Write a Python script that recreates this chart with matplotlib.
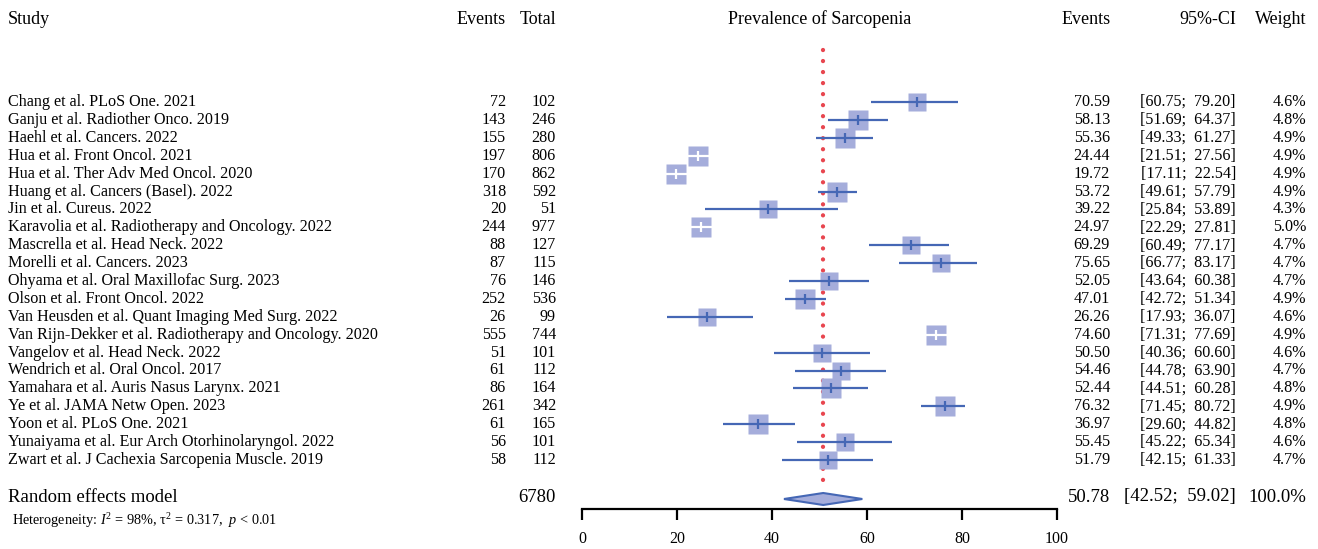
import matplotlib
matplotlib.use("Agg")
import matplotlib.pyplot as plt
import matplotlib.transforms as mtransforms
import numpy as np

plt.rcParams['font.family'] = ['Liberation Serif', 'DejaVu Serif']
plt.rcParams['mathtext.fontset'] = 'custom'
plt.rcParams['mathtext.rm'] = 'Liberation Serif'
plt.rcParams['mathtext.it'] = 'Liberation Serif:italic'

# ---- data ----
studies = [
    "Chang et al. PLoS One. 2021",
    "Ganju et al. Radiother Onco. 2019",
    "Haehl et al. Cancers. 2022",
    "Hua et al. Front Oncol. 2021",
    "Hua et al. Ther Adv Med Oncol. 2020",
    "Huang et al. Cancers (Basel). 2022",
    "Jin et al. Cureus. 2022",
    "Karavolia et al. Radiotherapy and Oncology. 2022",
    "Mascrella et al. Head Neck. 2022",
    "Morelli et al. Cancers. 2023",
    "Ohyama et al. Oral Maxillofac Surg. 2023",
    "Olson et al. Front Oncol. 2022",
    "Van Heusden et al. Quant Imaging Med Surg. 2022",
    "Van Rijn-Dekker et al. Radiotherapy and Oncology. 2020",
    "Vangelov et al. Head Neck. 2022",
    "Wendrich et al. Oral Oncol. 2017",
    "Yamahara et al. Auris Nasus Larynx. 2021",
    "Ye et al. JAMA Netw Open. 2023",
    "Yoon et al. PLoS One. 2021",
    "Yunaiyama et al. Eur Arch Otorhinolaryngol. 2022",
    "Zwart et al. J Cachexia Sarcopenia Muscle. 2019",
]
events = [72, 143, 155, 197, 170, 318, 20, 244, 88, 87, 76, 252, 26, 555, 51, 61, 86, 261, 61, 56, 58]
totals = [102, 246, 280, 806, 862, 592, 51, 977, 127, 115, 146, 536, 99, 744, 101, 112, 164, 342, 165, 101, 112]
prev = [70.59, 58.13, 55.36, 24.44, 19.72, 53.72, 39.22, 24.97, 69.29, 75.65, 52.05,
        47.01, 26.26, 74.60, 50.50, 54.46, 52.44, 76.32, 36.97, 55.45, 51.79]
ci_low = [60.75, 51.69, 49.33, 21.51, 17.11, 49.61, 25.84, 22.29, 60.49, 66.77, 43.64,
          42.72, 17.93, 71.31, 40.36, 44.78, 44.51, 71.45, 29.60, 45.22, 42.15]
ci_high = [79.20, 64.37, 61.27, 27.56, 22.54, 57.79, 53.89, 27.81, 77.17, 83.17, 60.38,
           51.34, 36.07, 77.69, 60.60, 63.90, 60.28, 80.72, 44.82, 65.34, 61.33]
weights = [4.6, 4.8, 4.9, 4.9, 4.9, 4.9, 4.3, 5.0, 4.7, 4.7, 4.7,
           4.9, 4.6, 4.9, 4.6, 4.7, 4.8, 4.9, 4.8, 4.6, 4.7]
pooled_est = 50.78
pooled_low = 42.52
pooled_high = 59.02
pooled_total = 6780
xticks = [0, 20, 40, 60, 80, 100]

# ---- layout ----
W, H = 1318, 549
row0, row_step = 102, 17.9          # pixel y of first row, row spacing


def row_of(py):
    return (py - row0) / row_step


box_col = '#a5addb'
line_col = '#4567b5'
ref_col = '#e8464f'

fig = plt.figure(figsize=(W / 100, H / 100), dpi=100)
ax = fig.add_axes([582 / W, 0, 475 / W, 1])
ax.set_xlim(0, 100)
ax.set_ylim(row_of(H), row_of(0))
for s in ['top', 'left', 'right']:
    ax.spines[s].set_visible(False)
ax.spines['bottom'].set_position(('data', row_of(509)))
ax.spines['bottom'].set_linewidth(1.6)
ax.spines['bottom'].set_bounds(0, 100)
ax.set_yticks([])
ax.set_xticks(xticks)
ax.tick_params(axis='x', direction='out', length=8, width=1.6, pad=8, labelsize=11.5)

rows = np.arange(len(studies))

# reference line at pooled estimate
ax.plot([pooled_est, pooled_est], [row_of(50), row_of(488)], color=ref_col, lw=3.1,
        ls=(0, (0.01, 2.55)), dash_capstyle='round', zorder=1)

# study boxes and CIs
for r, est, lo, hi, w in zip(rows, prev, ci_low, ci_high, weights):
    ms = 13.4 * np.sqrt(w / 4.6)
    ax.plot(est, r, marker='s', ms=ms, mfc=box_col, mec='none', zorder=2, clip_on=False)
    c = 'white' if hi - lo < 7 else line_col
    ax.plot([lo, hi], [r, r], color=c, lw=1.6, zorder=3, solid_capstyle='butt')
    ax.plot(est, r, marker='|', ms=6.5, mew=1.6, color=c, zorder=4)

# pooled diamond
rd = row_of(499)
hd = 6 / row_step
ax.fill([pooled_low, pooled_est, pooled_high, pooled_est], [rd, rd - hd, rd, rd + hd],
        facecolor=box_col, edgecolor=line_col, lw=1.5, zorder=3)

# ---- text columns ----
tr = mtransforms.blended_transform_factory(fig.transFigure, ax.transData)
rh = row_of(19)
rs = row_of(497)
fs_row, fs_head, fs_sum = 11.6, 13, 13.5

ax.text(8 / W, rh, "Study", transform=tr, ha='left', va='center', fontsize=fs_head)
ax.text(506 / W, rh, "Events", transform=tr, ha='right', va='center', fontsize=fs_head)
ax.text(556 / W, rh, "Total", transform=tr, ha='right', va='center', fontsize=fs_head)
ax.text(50, rh, "Prevalence of Sarcopenia", ha='center', va='center', fontsize=fs_head)
ax.text(1111 / W, rh, "Events", transform=tr, ha='right', va='center', fontsize=fs_head)
ax.text(1236 / W, rh, "95%-CI", transform=tr, ha='right', va='center', fontsize=fs_head)
ax.text(1306 / W, rh, "Weight", transform=tr, ha='right', va='center', fontsize=fs_head)

for r, name, e, n, est, lo, hi, w in zip(rows, studies, events, totals, prev, ci_low, ci_high, weights):
    ax.text(8 / W, r, name, transform=tr, ha='left', va='center', fontsize=fs_row)
    ax.text(506 / W, r, str(e), transform=tr, ha='right', va='center', fontsize=fs_row)
    ax.text(556 / W, r, str(n), transform=tr, ha='right', va='center', fontsize=fs_row)
    ax.text(1110 / W, r, f"{est:.2f}", transform=tr, ha='right', va='center', fontsize=fs_row)
    ax.text(1236 / W, r, f"[{lo:.2f};  {hi:.2f}]", transform=tr, ha='right', va='center', fontsize=fs_row)
    ax.text(1306 / W, r, f"{w:.1f}%", transform=tr, ha='right', va='center', fontsize=fs_row)

ax.text(8 / W, rs, "Random effects model", transform=tr, ha='left', va='center', fontsize=fs_sum)
ax.text(556 / W, rs, str(pooled_total), transform=tr, ha='right', va='center', fontsize=fs_sum)
ax.text(1110 / W, rs, f"{pooled_est:.2f}", transform=tr, ha='right', va='center', fontsize=fs_sum)
ax.text(1236 / W, rs, f"[{pooled_low:.2f};  {pooled_high:.2f}]", transform=tr, ha='right', va='center', fontsize=fs_sum)
ax.text(1306 / W, rs, "100.0%", transform=tr, ha='right', va='center', fontsize=fs_sum)

ax.text(12 / W, row_of(521), r"Heterogeneity: $I^2$ = 98%, $\mathrm{\tau}^2$ = 0.317,  $p$ < 0.01",
        transform=tr, ha='left', va='center', fontsize=10.3)

fig.savefig("out.png", dpi=100)
